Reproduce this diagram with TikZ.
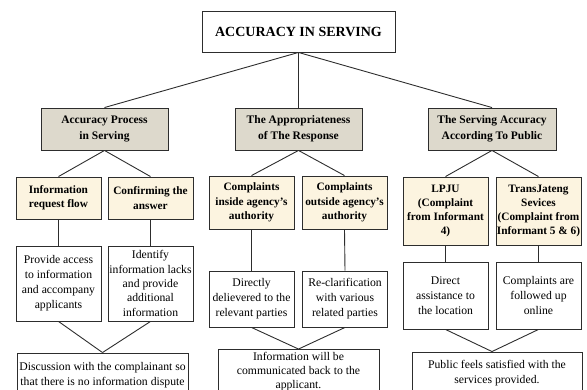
\documentclass[tikz,border=0pt]{standalone}
\usepackage{fontspec}
\setmainfont{Liberation Serif}
\definecolor{hdfill}{RGB}{221,217,204}
\definecolor{subfill}{RGB}{252,244,224}
\definecolor{edge}{RGB}{45,45,45}
\begin{document}
\begin{tikzpicture}[x=1pt,y=-1pt,
  base/.style={draw=edge, line width=0.9pt, rectangle, inner sep=0pt, align=center},
  topbox/.style={base, fill=white, font=\fontsize{14}{17}\selectfont\bfseries},
  headbox/.style={base, fill=hdfill, minimum width=127pt, minimum height=42pt, font=\fontsize{11.5}{16}\selectfont\bfseries},
  subbox/.style={base, fill=subfill, minimum width=85pt, font=\fontsize{11.3}{14.3}\selectfont\bfseries},
  leafbox/.style={base, fill=white, minimum width=85pt, font=\fontsize{11.7}{15}\selectfont},
  endbox/.style={base, fill=white, font=\fontsize{11.7}{15}\selectfont},
  link/.style={draw=edge, line width=0.9pt}]
\useasboundingbox (0,0) rectangle (587,390);
\clip (0,0) rectangle (587,390);

% top
\node[topbox, minimum width=193pt, minimum height=41pt] (top) at (298.5,31.5) {ACCURACY IN SERVING};

% level 1
\node[headbox] (h1) at (104.5,129) {Accuracy Process\\in Serving};
\node[headbox] (h2) at (298.5,129) {The Appropriateness\\of The Response};
\node[headbox, minimum width=128pt] (h3) at (492,129) {The Serving Accuracy\\According To Public};

% level 2
\node[subbox, minimum height=42pt] (s1) at (58.5,198) {Information\\request flow};
\node[subbox, minimum height=42pt] (s2) at (150.5,198) {Confirming the\\answer};
\node[subbox, minimum height=53pt] (s3) at (251.5,202.5) {Complaints\\inside agency's\\authority};
\node[subbox, minimum height=53pt] (s4) at (344.5,202.5) {Complaints\\outside agency's\\authority};
\node[subbox, minimum height=68pt] (s5) at (445.5,211) {LPJU\\(Complaint\\from Informant\\4)};
\node[subbox, minimum height=68pt] (s6) at (538.5,211) {TransJateng\\Sevices\\(Complaint from\\Informant 5 \& 6)};

% level 3
\node[leafbox, minimum height=75pt] (l1) at (58.5,283.5) {Provide access\\to information\\and accompany\\applicants};
\node[leafbox, minimum height=75pt, font=\fontsize{11.7}{14.3}\selectfont] (l2) at (150.5,283.5) {Identify\\information lacks\\and provide\\additional\\information};
\node[leafbox, minimum height=56pt] (l3) at (251.5,299) {Directly\\delievered to the\\relevant parties};
\node[leafbox, minimum height=56pt] (l4) at (345,299) {Re-clarification\\with various\\related parties};
\node[leafbox, minimum height=67pt] (l5) at (445.5,295.5) {Direct\\assistance to\\the location};
\node[leafbox, minimum height=67pt] (l6) at (538.5,295.5) {Complaints are\\followed up\\online};

% bottom
\node[endbox, minimum width=171pt, minimum height=45pt] (b1) at (102.5,375.5) {Discussion with the complainant so\\that there is no information dispute};
\node[endbox, minimum width=161pt, minimum height=44pt, font=\fontsize{11.7}{14}\selectfont] (b2) at (298.5,371.5) {Information will be\\communicated back to the\\applicant.};
\node[endbox, minimum width=170pt, minimum height=42pt] (b3) at (497,373) {Public feels satisfied with the\\services provided.};

% connectors
\draw[link] (top.south) -- (h1.north);
\draw[link] (top.south) -- (h2.north);
\draw[link] (top.south) -- (h3.north);

\draw[link] (h1.south) -- (s1.north);
\draw[link] (h1.south) -- (s2.north);
\draw[link] (h2.south) -- (s3.north);
\draw[link] (h2.south) -- (s4.north);
\draw[link] (h3.south) -- (s5.north);
\draw[link] (h3.south) -- (s6.north);

\draw[link] (s1.south) -- (l1.north);
\draw[link] (s2.south) -- (l2.north);
\draw[link] (s3.south) -- (l3.north);
\draw[link] (s4.south) -- (l4.north);
\draw[link] (s5.south) -- (l5.north);
\draw[link] (s6.south) -- (l6.north);

\draw[link] (l1.south) -- (b1.north);
\draw[link] (l2.south) -- (b1.north);
\draw[link] (l3.south) -- (b2.north);
\draw[link] (l4.south) -- (b2.north);
\draw[link] (l5.south) -- (b3.north -| h3.south);
\draw[link] (l6.south) -- (b3.north -| h3.south);
\end{tikzpicture}
\end{document}
